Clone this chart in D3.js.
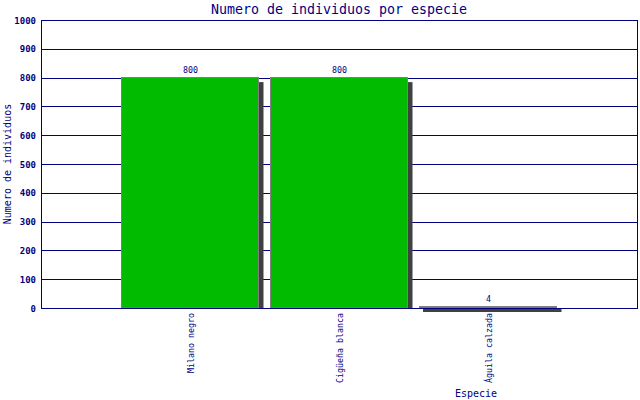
<!DOCTYPE html>
<html><head><meta charset="utf-8">
<script src="https://cdn.jsdelivr.net/npm/d3@7"></script>
<style>body{margin:0;background:#fff}svg{display:block}text{font-family:"DejaVu Sans Mono",monospace}</style>
</head><body><svg id="c" width="640" height="400"></svg>
<script>
const categories = ["Milano negro", "Cigüeña blanca", "Águila calzada"];
const values = [800, 800, 4];
const yTicks = [0, 100, 200, 300, 400, 500, 600, 700, 800, 900, 1000];
const title = "Numero de individuos por especie";
const yTitle = "Numero de individuos";
const xTitle = "Especie";

const navy = "#000080";
const svg = d3.select("#c");
const L = 41.5, R = 637.5, T = 20.5, B = 308.5;
const y = d3.scaleLinear().domain([0, 1000]).range([B, T]);
const x = d3.scalePoint().domain(categories).range([L, R]).padding(1);
const bw = 138;

svg.append("text").attr("x", 339).attr("y", 14).attr("text-anchor", "middle")
  .attr("font-size", 13.3).attr("fill", navy).text(title);

// gridlines
svg.append("g").selectAll("line").data(yTicks).join("line")
  .attr("x1", L).attr("x2", R).attr("y1", d => Math.round(y(d) - 0.5) + 0.5).attr("y2", d => Math.round(y(d) - 0.5) + 0.5)
  .attr("stroke", navy).attr("stroke-width", 1);
svg.append("g").selectAll("text").data(yTicks).join("text")
  .attr("x", 36).attr("y", d => y(d) + 3).attr("text-anchor", "end")
  .attr("font-size", 9).attr("font-weight", "bold").attr("fill", navy).text(d => d);

// shadows
const y0 = y(0) - 0.5;
svg.append("g").selectAll("rect").data(values).join("rect")
  .attr("x", (d, i) => x(categories[i]) - 69.5 + 4)
  .attr("y", d => Math.min(y(d) + 4, y0 + 1))
  .attr("width", bw + 0.5)
  .attr("height", d => { const t = Math.min(y(d) + 4, y0 + 1); return Math.max(y0, t + 3) - t; })
  .attr("fill", "#404040");
// bars
svg.append("g").selectAll("rect").data(values).join("rect")
  .attr("x", (d, i) => x(categories[i]) - 69.5 + 0.5)
  .attr("y", d => Math.round(y(d)) - 0.5)
  .attr("width", bw - 1)
  .attr("height", d => Math.max(y0 - Math.round(y(d)) + 0.5, 1))
  .attr("fill", "#00bb00").attr("stroke", "#808080").attr("stroke-width", 1);

// frame
svg.append("rect").attr("x", L).attr("y", T).attr("width", R - L).attr("height", B - T)
  .attr("fill", "none").attr("stroke", navy).attr("stroke-width", 1);

// value labels
svg.append("g").selectAll("text").data(values).join("text")
  .attr("x", (d, i) => x(categories[i])).attr("y", d => y(d) - 5)
  .attr("text-anchor", "middle").attr("font-size", 8.3).attr("fill", navy).text(d => d);

// category labels
svg.append("g").selectAll("text").data(categories).join("text")
  .attr("transform", d => `translate(${x(d) + 3},313) rotate(-90)`)
  .attr("text-anchor", "end").attr("font-size", 8.3).attr("fill", navy).text(d => d);

svg.append("text").attr("x", 476).attr("y", 397).attr("text-anchor", "middle")
  .attr("font-size", 10).attr("fill", navy).text(xTitle);
svg.append("text").attr("transform", "translate(11,164) rotate(-90)").attr("text-anchor", "middle")
  .attr("font-size", 10).attr("fill", navy).text(yTitle);
</script></body></html>
